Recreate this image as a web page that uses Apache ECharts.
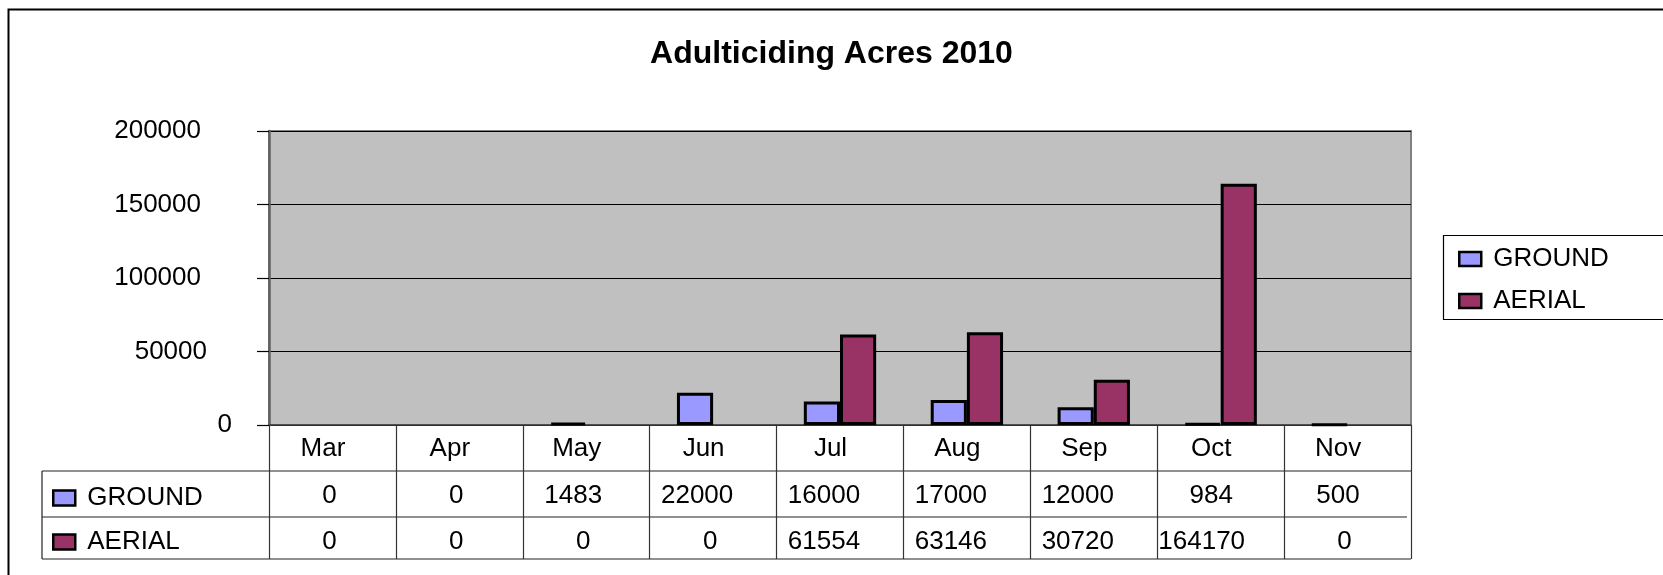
<!DOCTYPE html>
<html>
<head>
<meta charset="utf-8">
<script src="https://cdn.jsdelivr.net/npm/echarts@6/dist/echarts.min.js"></script>
<style>
  html, body { margin: 0; padding: 0; background: #fff; }
  #chart { width: 1663px; height: 575px; }
</style>
</head>
<body>
<div id="chart"></div>
<script>
// Monthly adulticiding acreage, 2010
const months = ['Mar', 'Apr', 'May', 'Jun', 'Jul', 'Aug', 'Sep', 'Oct', 'Nov'];
const ground = [0, 0, 1483, 22000, 16000, 17000, 12000, 984, 500];
const aerial = [0, 0, 0, 0, 61554, 63146, 30720, 164170, 0];
const seriesNames = ['GROUND', 'AERIAL'];
const yMax = 200000;
const yStep = 50000;

// Layout (pixels)
const FONT = "'Liberation Sans', Arial, sans-serif";
const FS = 26;
const plot = { left: 269, top: 131, right: 1411, bottom: 425 };
const table = { left: 42, row1: 471, row2: 517, bottom: 559 };

const chart = echarts.init(document.getElementById('chart'), null, { renderer: 'canvas' });

const tableLines = [
  [table.left, table.row1, plot.right, table.row1],
  [table.left, table.row2, plot.right - 4, table.row2],
  [table.left, table.bottom, plot.right, table.bottom],
  [table.left, table.row1, table.left, table.bottom]
].map(([x1, y1, x2, y2]) => ({
  type: 'line',
  silent: true,
  shape: { x1, y1, x2, y2 },
  style: { stroke: '#222', lineWidth: 1.2 }
}));

// Text sits a little left of its anchor, more so for longer strings:
// a right padding that grows with the string length does that.
function richSet(prefix, base, perChar) {
  const out = {};
  for (let n = 1; n <= 7; n++) {
    out[prefix + n] = Object.assign({}, base, { padding: [0, Math.round(perChar * n), 0, 0] });
  }
  return out;
}
const tok = (prefix, s) => `{${prefix}${String(s).length}|${s}}`;

const cellText = { fontFamily: FONT, fontSize: FS, color: '#000' };
const xRich = Object.assign(
  {},
  richSet('m', Object.assign({ lineHeight: 46 }, cellText), 6.4),
  richSet('g', Object.assign({ lineHeight: 48 }, cellText), 6.4),
  richSet('a', Object.assign({ lineHeight: 44 }, cellText), 6.4)
);
const yRich = richSet('y', cellText, 6.1);

// empty months get no outline so nothing shows at the baseline
const barData = (values) => values.map(v => (v === 0 ? { value: v, itemStyle: { borderWidth: 0 } } : v));

const legendText = { fontFamily: FONT, fontSize: FS, color: '#000', lineHeight: 28, padding: [0, 0, 0, 7] };

chart.setOption({
  animation: false,
  backgroundColor: '#fff',
  textStyle: { fontFamily: FONT },
  title: {
    text: 'Adulticiding Acres 2010',
    left: 'center',
    top: 33,
    textStyle: { fontFamily: FONT, fontSize: 32, fontWeight: 'bold', color: '#000' }
  },
  color: ['#9999FF', '#993366'],
  legend: [
    {
      data: seriesNames,
      orient: 'vertical',
      left: 1453,
      top: 240,
      itemWidth: 22,
      itemHeight: 14,
      itemGap: 14,
      icon: 'rect',
      itemStyle: { borderColor: '#000', borderWidth: 2.5 },
      textStyle: legendText,
      selectedMode: false
    },
    {
      data: seriesNames,
      orient: 'vertical',
      left: 47,
      top: 479,
      itemWidth: 22,
      itemHeight: 15,
      itemGap: 16,
      icon: 'rect',
      itemStyle: { borderColor: '#000', borderWidth: 2.5 },
      textStyle: legendText,
      selectedMode: false
    }
  ],
  grid: {
    left: plot.left,
    top: plot.top,
    width: plot.right - plot.left,
    height: plot.bottom - plot.top,
    show: true,
    backgroundColor: '#C0C0C0',
    borderColor: '#808080',
    borderWidth: 2,
    containLabel: false
  },
  xAxis: {
    type: 'category',
    data: months,
    boundaryGap: true,
    axisLine: { show: true, lineStyle: { color: '#404040', width: 1.5 } },
    axisTick: {
      show: true,
      interval: 0,
      inside: false,
      length: table.bottom - plot.bottom,
      lineStyle: { color: '#333', width: 1.2 }
    },
    splitLine: { show: false },
    axisLabel: {
      interval: 0,
      margin: 1,
      color: '#000',
      fontFamily: FONT,
      fontSize: FS,
      formatter: (value, index) =>
        [tok('m', value), tok('g', ground[index]), tok('a', aerial[index])].join('\n'),
      rich: xRich
    }
  },
  yAxis: {
    type: 'value',
    min: 0,
    max: yMax,
    interval: yStep,
    axisLine: { show: true, lineStyle: { color: '#606060', width: 2.5 } },
    axisTick: { show: true, length: 12, lineStyle: { color: '#000', width: 1.2 } },
    splitLine: { show: true, lineStyle: { color: '#000', width: 1.2 } },
    axisLabel: {
      margin: 31,
      color: '#000',
      fontFamily: FONT,
      fontSize: FS,
      formatter: (v) => tok('y', v),
      rich: yRich
    }
  },
  series: [
    {
      name: seriesNames[0],
      type: 'bar',
      data: barData(ground),
      barGap: '0%',
      barCategoryGap: '43%',
      itemStyle: { color: '#9999FF', borderColor: '#000', borderWidth: 3 }
    },
    {
      name: seriesNames[1],
      type: 'bar',
      data: barData(aerial),
      barGap: '0%',
      barCategoryGap: '43%',
      itemStyle: { color: '#993366', borderColor: '#000', borderWidth: 3 }
    }
  ],
  graphic: [
    // outer chart frame (runs past the right and bottom edges)
    {
      type: 'rect',
      silent: true,
      shape: { x: 8.5, y: 9.5, width: 2000, height: 2000 },
      style: { fill: 'none', stroke: '#000', lineWidth: 2 }
    },
    // legend box
    {
      type: 'rect',
      silent: true,
      shape: { x: 1443.5, y: 235.5, width: 400, height: 84 },
      style: { fill: 'none', stroke: '#000', lineWidth: 1.2 }
    },
    ...tableLines
  ]
});
</script>
</body>
</html>
